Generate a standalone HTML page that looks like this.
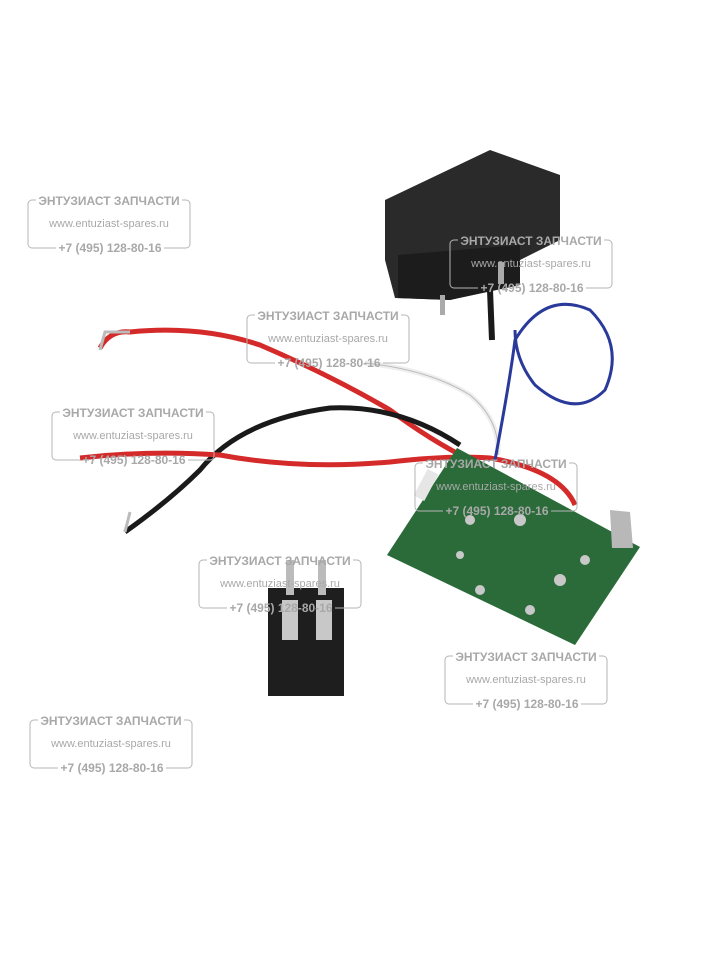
<!DOCTYPE html>
<html><head><meta charset="utf-8"><style>
body{margin:0;background:#fff}
svg{display:block}
.t{font-family:"Liberation Sans",sans-serif;fill:#a8a8a8}
</style></head><body>
<svg width="728" height="970" viewBox="0 0 728 970" xmlns="http://www.w3.org/2000/svg">
<!-- wires -->
<path d="M100,348 Q110,330 130,332 Q200,325 260,345 Q330,375 390,410 Q430,440 470,460" stroke="#d42a2a" stroke-width="5" fill="none"/>
<path d="M125,532 Q170,500 200,470 Q240,420 330,408 Q400,405 460,445" stroke="#1a1a1a" stroke-width="5" fill="none"/>
<path d="M80,458 Q150,450 220,455 Q300,470 390,462 Q450,455 490,458 Q560,470 575,505" stroke="#d42a2a" stroke-width="5" fill="none"/>
<path d="M365,363 Q430,370 470,395 Q500,420 498,455" stroke="#eee" stroke-width="5" fill="none"/>
<path d="M365,363 Q430,370 470,395 Q500,420 498,455" stroke="#bbb" stroke-width="1" fill="none"/>
<path d="M495,460 Q510,380 515,340 Q545,290 590,310 Q625,345 605,390 Q575,420 535,385 Q515,360 515,330" stroke="#2a3a9a" stroke-width="3" fill="none"/>
<path d="M490,290 L492,340" stroke="#1a1a1a" stroke-width="6"/>
<path d="M100,350 l5,-18 l25,0" stroke="#bbb" stroke-width="3" fill="none"/>
<path d="M125,532 l5,-20" stroke="#bbb" stroke-width="3" fill="none"/>
<!-- top connector -->
<polygon points="385,200 490,150 560,175 560,240 520,260 510,285 450,300 395,298 385,260" fill="#2a2a2a"/>
<polygon points="398,255 520,245 520,285 450,300 398,298" fill="#1c1c1c"/>
<rect x="440" y="295" width="5" height="20" fill="#aaa"/>
<rect x="498" y="262" width="6" height="22" fill="#aaa"/>
<!-- PCB -->
<polygon points="457,448 640,547 575,645 387,555" fill="#2b6b3a"/>
<polygon points="610,510 630,512 633,548 612,548" fill="#b8b8b8"/>
<rect x="420" y="470" width="12" height="30" fill="#e6e6e6" transform="rotate(28 426 485)"/>
<g fill="#c8c8c8"><circle cx="470" cy="520" r="5"/><circle cx="520" cy="520" r="6"/><circle cx="560" cy="580" r="6"/><circle cx="480" cy="590" r="5"/><circle cx="530" cy="610" r="5"/><circle cx="585" cy="560" r="5"/><circle cx="460" cy="555" r="4"/></g>
<!-- small connector -->
<rect x="268" y="588" width="76" height="108" fill="#1e1e1e"/>
<rect x="282" y="600" width="16" height="40" fill="#c8c8c8"/>
<rect x="316" y="600" width="16" height="40" fill="#c8c8c8"/>
<rect x="286" y="560" width="8" height="35" fill="#bbb"/>
<rect x="318" y="560" width="8" height="35" fill="#bbb"/>
<!-- watermarks -->
<g id="w">
<path d="M36,200 h-4 a4,4 0 0 0 -4,4 v40 a4,4 0 0 0 4,4 h24 M164,248 h22 a4,4 0 0 0 4,-4 v-40 a4,4 0 0 0 -4,-4 h-4" stroke="#b5b5b5" stroke-width="1" fill="none"/>
<text class="t" x="109" y="205" font-size="12" font-weight="bold" text-anchor="middle">ЭНТУЗИАСТ ЗАПЧАСТИ</text>
<text class="t" x="109" y="227" font-size="11" text-anchor="middle">www.entuziast-spares.ru</text>
<text class="t" x="110" y="252" font-size="12" font-weight="bold" text-anchor="middle">+7 (495) 128-80-16</text>
</g>
<use href="#w" x="422" y="40"/>
<use href="#w" x="219" y="115"/>
<use href="#w" x="24" y="212"/>
<use href="#w" x="387" y="263"/>
<use href="#w" x="171" y="360"/>
<use href="#w" x="417" y="456"/>
<use href="#w" x="2" y="520"/>
</svg>
</body></html>
